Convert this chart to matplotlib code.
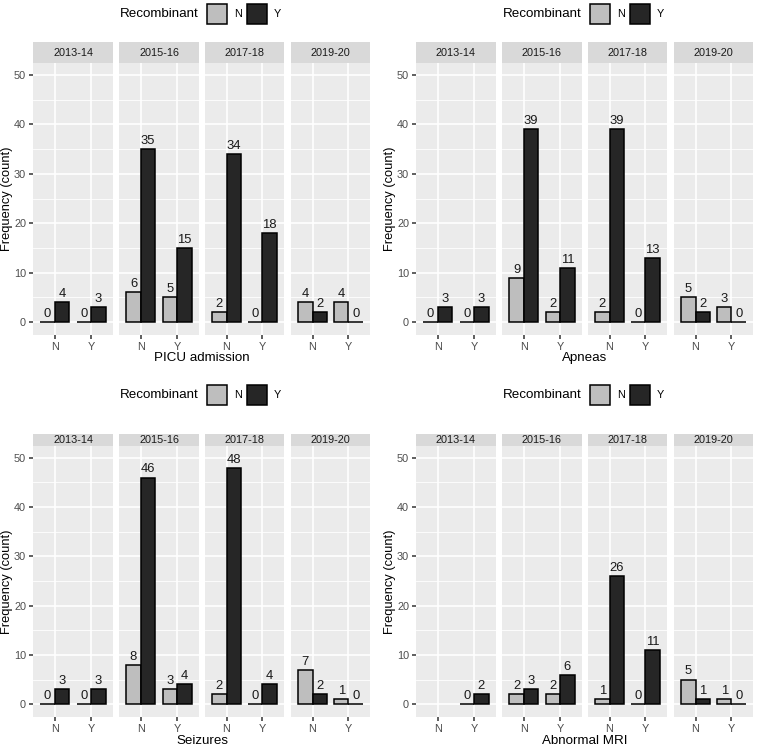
import matplotlib.pyplot as plt
from matplotlib.patches import Rectangle
import numpy as np

plt.rcParams['font.family'] = ['Liberation Sans', 'DejaVu Sans']

# ---- data ----
seasons = ['2013-14', '2015-16', '2017-18', '2019-20']
levels = ['N', 'Y']
titles = ['PICU admission', 'Apneas', 'Seizures', 'Abnormal MRI']

# counts per season, for outcome level [N, Y]; recombinant N and recombinant Y
picu_recN = [[0, 0], [6, 5], [2, 0], [4, 4]]
picu_recY = [[4, 3], [35, 15], [34, 18], [2, 0]]
apnea_recN = [[0, 0], [9, 2], [2, 0], [5, 3]]
apnea_recY = [[3, 3], [39, 11], [39, 13], [2, 0]]
seiz_recN = [[0, 0], [8, 3], [2, 0], [7, 1]]
seiz_recY = [[3, 3], [46, 4], [48, 4], [2, 0]]
mri_recN = [[None, 0], [2, 2], [1, 0], [5, 1]]
mri_recY = [[None, 2], [3, 6], [26, 11], [1, 0]]

data = [(picu_recN, picu_recY), (apnea_recN, apnea_recY),
        (seiz_recN, seiz_recY), (mri_recN, mri_recY)]

# ---- style ----
W, H = 760, 751
fill_N = '#BEBEBE'
fill_Y = '#262626'
panel_bg = '#EBEBEB'
strip_bg = '#D9D9D9'

fig = plt.figure(figsize=(W / 100, H / 100), dpi=100)


def px_axes(x0, y0, x1, y1):
    return fig.add_axes([x0 / W, 1 - y1 / H, (x1 - x0) / W, (y1 - y0) / H])


def ftext(x, y, s, **kw):
    fig.text(x / W, 1 - y / H, s, **kw)


facet_x = [(33, 113), (119, 199), (205, 284), (291, 370)]
rows = [dict(strip_top=42, panel_top=63, panel_bot=335, xlab=358, leg=14),
        dict(strip_top=434, panel_top=446, panel_bot=717, xlab=741, leg=395)]
col_dx = [0, 383]

for k, (recN, recY) in enumerate(data):
    row = rows[k // 2]
    dx = col_dx[k % 2]

    # legend
    ly = row['leg']
    ftext(dx + 199, ly, 'Recombinant', ha='right', va='center', fontsize=9.6)
    for bx, lab, col in [(207, 'N', fill_N), (247, 'Y', fill_Y)]:
        fig.add_artist(Rectangle(((dx + bx) / W, 1 - (ly + 10) / H), 20 / W, 20 / H,
                                 transform=fig.transFigure, facecolor=col,
                                 edgecolor='black', linewidth=1.1))
        ftext(dx + bx + 27, ly, lab, ha='left', va='center', fontsize=7.8)

    for j, season in enumerate(seasons):
        x0, x1 = facet_x[j]
        x0 += dx
        x1 += dx
        # strip
        sax = px_axes(x0, row['strip_top'], x1, row['panel_top'])
        sax.set_facecolor(strip_bg)
        sax.set_xticks([])
        sax.set_yticks([])
        for s in sax.spines.values():
            s.set_visible(False)
        sax.text(0.5, 0.5, season, ha='center', va='center', fontsize=7.8,
                 color='#1A1A1A', transform=sax.transAxes)

        ax = px_axes(x0, row['panel_top'], x1, row['panel_bot'])
        ax.set_facecolor(panel_bg)
        for s in ax.spines.values():
            s.set_visible(False)
        ax.set_xlim(0.4, 2.6)
        ax.set_ylim(-2.6, 52.4)
        ax.set_yticks(np.arange(0, 51, 10))
        ax.set_yticks(np.arange(5, 51, 10), minor=True)
        ax.set_xticks([1, 2])
        ax.set_xticklabels(levels)
        ax.grid(which='major', color='white', linewidth=1.2)
        ax.grid(which='minor', axis='y', color='white', linewidth=0.6)
        ax.set_axisbelow(True)
        ax.tick_params(axis='x', length=3, width=1.1, color='#333333',
                       labelcolor='#4D4D4D', labelsize=7.8, pad=2)
        ax.tick_params(axis='y', which='minor', length=0)
        if j == 0:
            ax.tick_params(axis='y', length=3, width=1.1, color='#333333',
                           labelcolor='#4D4D4D', labelsize=7.8, pad=2)
        else:
            ax.tick_params(axis='y', length=0, labelleft=False)

        for i in range(2):
            for vals, off, col in [(recN, -0.2, fill_N), (recY, 0.2, fill_Y)]:
                v = vals[j][i]
                if v is None:
                    continue
                xc = i + 1 + off
                ax.bar(xc, v, width=0.4, color=col, edgecolor='black',
                       linewidth=1.1, zorder=3)
                ax.annotate(str(v), (xc, v), xytext=(0, 1.5),
                            textcoords='offset points', ha='center',
                            va='bottom', fontsize=9.4, color='#1A1A1A')

    # axis titles
    ftext(dx + 202, row['xlab'], titles[k], ha='center', va='center', fontsize=9.6)
    ftext(dx + 7, (row['panel_top'] + row['panel_bot']) / 2, 'Frequency (count)',
          ha='center', va='center', rotation=90, fontsize=9.3)

fig.savefig('out.png', dpi=100)
